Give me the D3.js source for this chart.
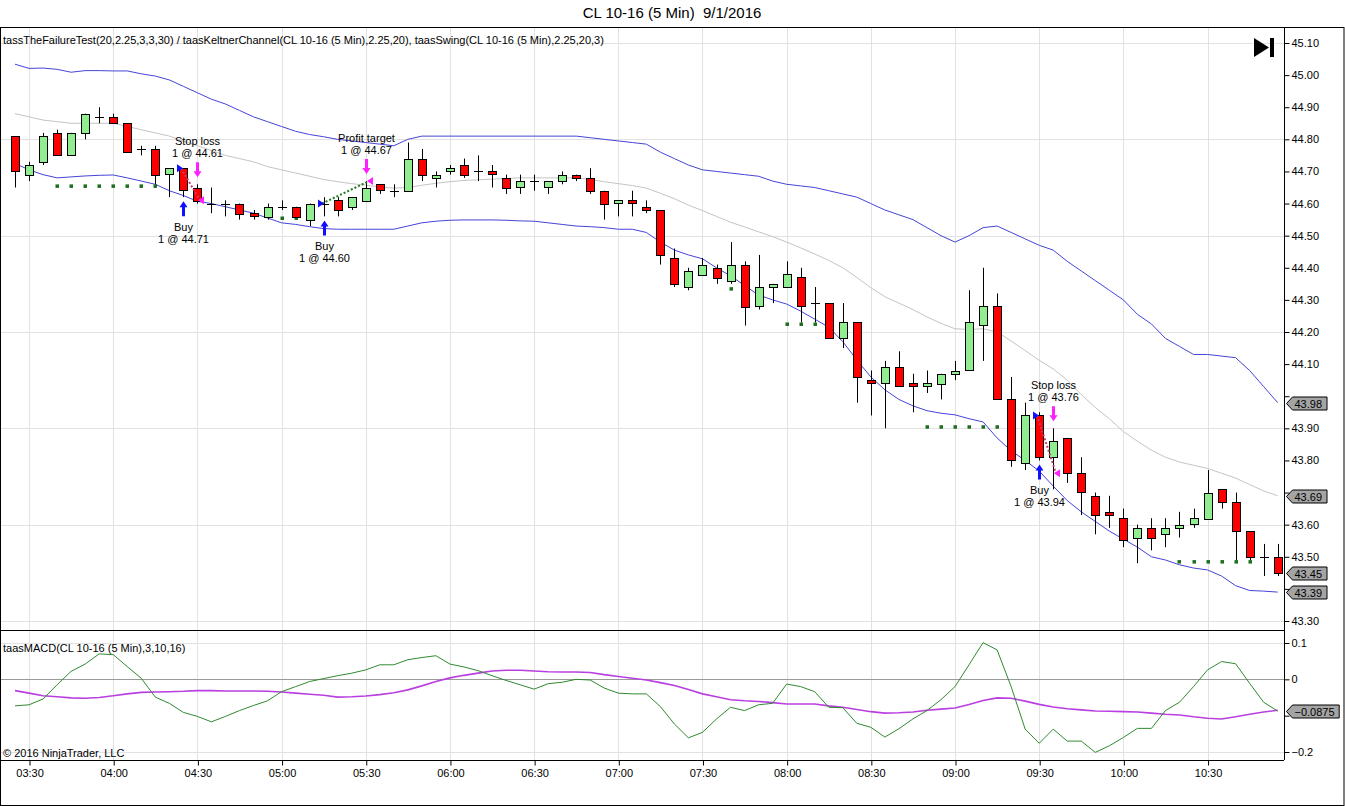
<!DOCTYPE html>
<html lang="en">
<head>
<meta charset="UTF-8">
<title>CL 10-16 (5 Min) 9/1/2016</title>
<script src="https://cdnjs.cloudflare.com/ajax/libs/d3/7.8.5/d3.min.js"></script>
<style>
    body { margin: 0; background: #fff; }
    svg { display: block; font-family: "Liberation Sans", Arial, sans-serif; }
    .lbl { font-size: 11px; fill: #000; }
</style>
</head>
<body>
<div id="chart"></div>
<script>
// ---- data ----
const opens = [44.81,44.69,44.73,44.82,44.75,44.82,44.87,44.87,44.85,44.77,
    44.77,44.69,44.71,44.65,44.60,44.60,44.60,44.57,44.56,44.59,
    44.59,44.55,44.60,44.61,44.59,44.61,44.66,44.64,44.64,44.74,
    44.68,44.70,44.72,44.70,44.70,44.68,44.65,44.67,44.65,44.67,
    44.69,44.68,44.64,44.60,44.61,44.59,44.58,44.43,44.34,44.38,
    44.40,44.36,44.41,44.28,44.34,44.34,44.37,44.29,44.29,44.18,
    44.23,44.05,44.04,44.09,44.04,44.03,44.04,44.07,44.08,44.22,
    44.28,43.99,43.79,43.94,43.81,43.87,43.76,43.69,43.64,43.62,
    43.56,43.59,43.57,43.59,43.60,43.62,43.71,43.67,43.58,43.50,
    43.50];
const highs = [44.81,44.73,44.82,44.83,44.82,44.88,44.90,44.88,44.85,44.78,
    44.78,44.71,44.71,44.66,44.65,44.61,44.60,44.58,44.60,44.61,
    44.59,44.60,44.62,44.62,44.62,44.67,44.66,44.66,44.79,44.77,
    44.70,44.72,44.74,44.75,44.72,44.69,44.69,44.69,44.67,44.70,
    44.69,44.71,44.64,44.61,44.64,44.61,44.58,44.46,44.40,44.43,
    44.41,44.48,44.42,44.44,44.35,44.42,44.40,44.34,44.29,44.29,
    44.23,44.08,44.11,44.14,44.07,44.08,44.07,44.11,44.33,44.40,
    44.32,44.06,43.98,43.95,43.90,43.87,43.81,43.70,43.69,43.65,
    43.60,43.62,43.62,43.64,43.65,43.77,43.71,43.70,43.58,43.54,
    43.54];
const lows = [44.65,44.67,44.72,44.75,44.75,44.80,44.85,44.85,44.76,44.75,
    44.66,44.62,44.62,44.60,44.57,44.56,44.55,44.55,44.55,44.58,
    44.56,44.53,44.56,44.56,44.58,44.61,44.63,44.62,44.64,44.67,
    44.65,44.69,44.68,44.67,44.65,44.63,44.63,44.64,44.63,44.66,
    44.67,44.63,44.55,44.56,44.56,44.57,44.41,44.34,44.33,44.38,
    44.35,44.35,44.22,44.27,44.29,44.34,44.23,44.23,44.18,44.15,
    43.98,43.94,43.90,44.03,43.95,44.01,43.99,44.05,44.08,44.11,
    43.99,43.78,43.77,43.80,43.71,43.73,43.63,43.57,43.59,43.53,
    43.48,43.52,43.53,43.56,43.59,43.62,43.65,43.49,43.49,43.44,
    43.44];
const closes = [44.70,44.72,44.81,44.75,44.82,44.88,44.87,44.85,44.76,44.77,
    44.69,44.71,44.64,44.61,44.60,44.60,44.57,44.56,44.59,44.59,
    44.56,44.60,44.60,44.58,44.62,44.65,44.64,44.64,44.74,44.69,
    44.69,44.71,44.69,44.70,44.69,44.65,44.67,44.67,44.67,44.69,
    44.68,44.64,44.60,44.61,44.60,44.58,44.44,44.35,44.39,44.41,
    44.37,44.41,44.28,44.34,44.35,44.38,44.28,44.29,44.18,44.23,
    44.06,44.04,44.09,44.03,44.03,44.04,44.07,44.08,44.23,44.28,
    43.99,43.80,43.94,43.81,43.86,43.76,43.70,43.63,43.63,43.55,
    43.59,43.56,43.59,43.60,43.62,43.70,43.67,43.58,43.50,43.50,
    43.45];

const kcUpper = [45.034,45.021,45.022,45.018,45.009,45.014,45.014,45.013,45.013,45.004,
    44.997,44.985,44.965,44.945,44.925,44.91,44.89,44.87,44.855,44.84,
    44.825,44.815,44.808,44.80,44.795,44.79,44.785,44.78,44.80,44.81,
    44.81,44.81,44.81,44.81,44.81,44.81,44.81,44.81,44.81,44.81,
    44.81,44.805,44.80,44.795,44.79,44.785,44.76,44.74,44.72,44.705,
    44.70,44.695,44.69,44.685,44.67,44.66,44.655,44.65,44.64,44.63,
    44.62,44.60,44.58,44.565,44.55,44.525,44.50,44.48,44.50,44.525,
    44.53,44.51,44.49,44.47,44.455,44.42,44.39,44.36,44.33,44.30,
    44.255,44.225,44.18,44.155,44.13,44.13,44.125,44.12,44.08,44.03,
    43.98];
const kcMid = [44.88,44.87,44.86,44.855,44.85,44.85,44.85,44.85,44.84,44.83,
    44.82,44.81,44.795,44.78,44.765,44.75,44.74,44.73,44.715,44.705,
    44.695,44.685,44.675,44.668,44.662,44.657,44.652,44.648,44.65,44.657,
    44.663,44.668,44.672,44.674,44.676,44.678,44.68,44.68,44.68,44.68,
    44.68,44.675,44.668,44.662,44.656,44.648,44.632,44.615,44.595,44.578,
    44.56,44.542,44.527,44.512,44.497,44.48,44.462,44.443,44.423,44.40,
    44.37,44.338,44.31,44.29,44.27,44.247,44.227,44.21,44.208,44.21,
    44.20,44.172,44.142,44.112,44.085,44.05,44.005,43.965,43.93,43.89,
    43.86,43.832,43.81,43.795,43.785,43.775,43.76,43.745,43.725,43.705,
    43.69];
const kcLower = [44.725,44.705,44.69,44.68,44.683,44.686,44.688,44.689,44.68,44.67,
    44.66,44.64,44.625,44.607,44.60,44.59,44.58,44.57,44.555,44.54,
    44.535,44.528,44.522,44.52,44.52,44.52,44.52,44.52,44.53,44.54,
    44.545,44.548,44.549,44.549,44.549,44.548,44.546,44.545,44.54,44.535,
    44.53,44.528,44.525,44.52,44.52,44.51,44.48,44.455,44.44,44.428,
    44.40,44.375,44.345,44.315,44.30,44.287,44.265,44.24,44.215,44.17,
    44.113,44.06,44.02,43.99,43.97,43.955,43.947,43.942,43.93,43.92,
    43.87,43.83,43.80,43.767,43.72,43.675,43.64,43.61,43.58,43.555,
    43.53,43.50,43.49,43.475,43.465,43.459,43.44,43.41,43.395,43.393,
    43.39];

const macdLine = [-0.073,-0.070,-0.054,-0.015,0.022,0.042,0.070,0.068,0.035,0.003,
    -0.049,-0.066,-0.091,-0.102,-0.117,-0.102,-0.086,-0.072,-0.059,-0.034,
    -0.020,-0.006,0.002,0.010,0.017,0.026,0.040,0.040,0.054,0.060,
    0.065,0.042,0.034,0.024,0.010,-0.003,-0.015,-0.027,-0.012,-0.008,
    0.000,-0.002,-0.024,-0.038,-0.040,-0.040,-0.075,-0.123,-0.161,-0.146,
    -0.109,-0.077,-0.086,-0.070,-0.066,-0.013,-0.020,-0.034,-0.077,-0.078,
    -0.121,-0.132,-0.159,-0.136,-0.109,-0.086,-0.056,-0.020,0.040,0.101,
    0.081,-0.020,-0.137,-0.176,-0.137,-0.170,-0.170,-0.201,-0.183,-0.160,
    -0.135,-0.135,-0.086,-0.063,-0.020,0.026,0.049,0.043,-0.011,-0.063,
    -0.0875];
const macdSignal = [-0.031,-0.038,-0.045,-0.048,-0.051,-0.052,-0.050,-0.045,-0.040,-0.036,
    -0.035,-0.034,-0.033,-0.031,-0.031,-0.032,-0.032,-0.032,-0.033,-0.035,
    -0.038,-0.041,-0.044,-0.049,-0.048,-0.046,-0.042,-0.037,-0.029,-0.018,
    -0.006,0.004,0.011,0.017,0.023,0.025,0.025,0.023,0.021,0.020,
    0.020,0.019,0.013,0.008,0.003,-0.002,-0.009,-0.017,-0.028,-0.040,
    -0.048,-0.056,-0.059,-0.061,-0.064,-0.068,-0.068,-0.068,-0.073,-0.077,
    -0.083,-0.089,-0.093,-0.092,-0.090,-0.085,-0.082,-0.079,-0.069,-0.058,
    -0.051,-0.052,-0.060,-0.069,-0.076,-0.081,-0.084,-0.087,-0.088,-0.089,
    -0.090,-0.093,-0.096,-0.098,-0.103,-0.107,-0.109,-0.103,-0.096,-0.090,
    -0.085];

// swing levels: first bar, last bar, price
const swingStart = [3, 19, 51, 55, 65, 83];
const swingEnd   = [10, 20, 51, 57, 70, 88];
const swingPrice = [44.655, 44.555, 44.335, 44.225, 43.905, 43.485];

// trades
const entryBar   = [12, 22, 73];
const entryPrice = [44.71, 44.60, 43.94];
const exitBar    = [13, 25, 74];
const exitPrice  = [44.61, 44.67, 43.76];
const exitName   = ['Stop loss', 'Profit target', 'Stop loss'];

const priceTicks = [43.30,43.40,43.50,43.60,43.70,43.80,43.90,44.00,44.10,44.20,
    44.30,44.40,44.50,44.60,44.70,44.80,44.90,45.00,45.10];
const priceGrid = [43.30, 43.60, 43.90, 44.20, 44.50, 44.80, 45.10];
const macdTicks = [0.1, 0, -0.1, -0.2];
const macdGrid = [0.1, -0.2];

// ---- layout ----
const width = 1345, height = 806;
const axisX = 1284;
const panelTop = 27, split = 630, macdBottom = 760, frameBottom = 805;

const svg = d3.select('#chart').append('svg')
    .attr('width', width)
    .attr('height', height);

const barTimes = d3.timeMinute.every(5).range(new Date(2016, 8, 1, 3, 25), new Date(2016, 8, 1, 11, 0));
const bars = barTimes.map((t, i) => ({
    i, t, o: opens[i], h: highs[i], l: lows[i], c: closes[i]
}));

const x = d3.scaleTime()
    .domain([barTimes[0], barTimes[barTimes.length - 1]])
    .range([15, 1277.7]);
const y = d3.scaleLinear().domain([43.30, 45.10]).range([621, 43]);
const ym = d3.scaleLinear().domain([-0.2, 0.1]).range([752, 643]);
const px = i => Math.round(x(barTimes[i]));

const defs = svg.append('defs');
defs.append('clipPath').attr('id', 'clipPrice')
    .append('rect').attr('x', 0).attr('y', panelTop).attr('width', axisX).attr('height', split - panelTop);
defs.append('clipPath').attr('id', 'clipMacd')
    .append('rect').attr('x', 0).attr('y', split).attr('width', axisX).attr('height', macdBottom - split);

// grid
const timeTicks = x.ticks(d3.timeMinute.every(30));
svg.append('g').selectAll('line').data(timeTicks).enter().append('line')
    .attr('x1', d => Math.round(x(d)) + 0.5).attr('x2', d => Math.round(x(d)) + 0.5)
    .attr('y1', panelTop).attr('y2', macdBottom)
    .attr('stroke', '#e2e2e2');
svg.append('g').selectAll('line').data(priceGrid).enter().append('line')
    .attr('x1', 0).attr('x2', axisX)
    .attr('y1', d => Math.round(y(d)) + 0.5).attr('y2', d => Math.round(y(d)) + 0.5)
    .attr('stroke', '#e2e2e2');
svg.append('g').selectAll('line').data(macdGrid).enter().append('line')
    .attr('x1', 0).attr('x2', axisX)
    .attr('y1', d => Math.round(ym(d)) + 0.5).attr('y2', d => Math.round(ym(d)) + 0.5)
    .attr('stroke', '#e2e2e2');

// ---- price panel ----
const price = svg.append('g').attr('clip-path', 'url(#clipPrice)');

const bandLine = arr => d3.line()
    .x((d, i) => x(barTimes[i]))
    .y(d => y(d))(arr);

price.append('path').attr('d', bandLine(kcMid))
    .attr('fill', 'none').attr('stroke', '#c4c4c4').attr('stroke-width', 1);
price.append('path').attr('d', bandLine(kcUpper))
    .attr('fill', 'none').attr('stroke', '#4444d8').attr('stroke-width', 1);
price.append('path').attr('d', bandLine(kcLower))
    .attr('fill', 'none').attr('stroke', '#4444d8').attr('stroke-width', 1);

// swing dots
const swingDots = [];
swingStart.forEach((s, k) => {
    for (let i = s; i <= swingEnd[k]; i++) swingDots.push({ i, p: swingPrice[k] });
});
price.append('g').selectAll('rect').data(swingDots).enter().append('rect')
    .attr('x', d => px(d.i) - 1.5)
    .attr('y', d => y(d.p) - 1.5)
    .attr('width', 3.5).attr('height', 3.5)
    .attr('fill', '#1d6e1d');

// candles
const candle = price.append('g').selectAll('g').data(bars).enter().append('g');
candle.append('line')
    .attr('x1', d => px(d.i) + 0.5).attr('x2', d => px(d.i) + 0.5)
    .attr('y1', d => y(d.h)).attr('y2', d => y(d.l))
    .attr('stroke', '#000');
candle.filter(d => d.o !== d.c).append('rect')
    .attr('x', d => px(d.i) - 3.5)
    .attr('y', d => Math.round(y(Math.max(d.o, d.c))) + 0.5)
    .attr('width', 8)
    .attr('height', d => Math.max(1, Math.round(Math.abs(y(d.o) - y(d.c)))))
    .attr('fill', d => d.c > d.o ? '#90ee90' : '#ff0000')
    .attr('stroke', '#000');
candle.filter(d => d.o === d.c).append('line')
    .attr('x1', d => px(d.i) - 4)
    .attr('x2', d => px(d.i) + 5)
    .attr('y1', d => Math.round(y(d.o)) + 0.5)
    .attr('y2', d => Math.round(y(d.o)) + 0.5)
    .attr('stroke', '#000');

// trades
const trades = entryBar.map((b, k) => ({
    eb: b, ep: entryPrice[k], xb: exitBar[k], xp: exitPrice[k], name: exitName[k],
    win: exitPrice[k] > entryPrice[k]
}));
const tg = price.append('g');
tg.selectAll('line.trade').data(trades).enter().append('line')
    .attr('x1', d => px(d.eb) - 2).attr('y1', d => y(d.ep))
    .attr('x2', d => px(d.xb) + 3).attr('y2', d => y(d.xp))
    .attr('stroke', d => d.win ? '#1f7a1f' : '#cc3a6a')
    .attr('stroke-width', 2)
    .attr('stroke-dasharray', '2,2');
tg.selectAll('path.entryTri').data(trades).enter().append('path')
    .attr('d', d => {
        const cx = px(d.eb), cy = y(d.ep);
        return `M${cx - 6},${cy - 4}L${cx},${cy}L${cx - 6},${cy + 4}Z`;
    })
    .attr('fill', '#1010ff');
tg.selectAll('path.exitTri').data(trades).enter().append('path')
    .attr('d', d => {
        const cx = px(d.xb), cy = y(d.xp);
        return `M${cx + 7},${cy - 4}L${cx + 1},${cy}L${cx + 7},${cy + 4}Z`;
    })
    .attr('fill', '#ff20ff');

const upArrow = (cx, ty) => `M${cx},${ty}L${cx + 4},${ty + 6}L${cx + 1.5},${ty + 6}L${cx + 1.5},${ty + 15}` +
    `L${cx - 1.5},${ty + 15}L${cx - 1.5},${ty + 6}L${cx - 4},${ty + 6}Z`;
const downArrow = (cx, ty) => `M${cx},${ty}L${cx + 4},${ty - 6}L${cx + 1.5},${ty - 6}L${cx + 1.5},${ty - 15}` +
    `L${cx - 1.5},${ty - 15}L${cx - 1.5},${ty - 6}L${cx - 4},${ty - 6}Z`;

trades.forEach(d => {
    const ex = px(d.eb) + 0.5, ey = y(lows[d.eb]) + 4;
    tg.append('path').attr('d', upArrow(ex, ey)).attr('fill', '#1010ff');
    tg.append('text').attr('class', 'lbl').attr('x', ex).attr('y', ey + 30)
        .attr('text-anchor', 'middle').text('Buy');
    tg.append('text').attr('class', 'lbl').attr('x', ex).attr('y', ey + 42)
        .attr('text-anchor', 'middle').text('1 @ ' + d.ep.toFixed(2));

    const xx = px(d.xb) + 0.5, xy = y(highs[d.xb]) - 7;
    tg.append('path').attr('d', downArrow(xx, xy)).attr('fill', '#ff20ff');
    tg.append('text').attr('class', 'lbl').attr('x', xx).attr('y', xy - 32)
        .attr('text-anchor', 'middle').text(d.name);
    tg.append('text').attr('class', 'lbl').attr('x', xx).attr('y', xy - 20)
        .attr('text-anchor', 'middle').text('1 @ ' + d.xp.toFixed(2));
});

// ---- MACD panel ----
const macd = svg.append('g').attr('clip-path', 'url(#clipMacd)');
macd.append('line')
    .attr('x1', 0).attr('x2', axisX)
    .attr('y1', Math.round(ym(0)) + 0.5).attr('y2', Math.round(ym(0)) + 0.5)
    .attr('stroke', '#9a9a9a');
const macdPath = d3.line().x((d, i) => x(barTimes[i])).y(d => ym(d));
macd.append('path').attr('d', macdPath(macdSignal))
    .attr('fill', 'none').attr('stroke', '#b93fe0').attr('stroke-width', 1.6);
macd.append('path').attr('d', macdPath(macdLine))
    .attr('fill', 'none').attr('stroke', '#2f8a2f').attr('stroke-width', 1);

// value markers on the right axis (they hide the tick labels below them)
const markers = [
    { v: kcUpper[kcUpper.length - 1], s: y, f: '.2f' },
    { v: kcMid[kcMid.length - 1], s: y, f: '.2f' },
    { v: closes[closes.length - 1], s: y, f: '.2f' },
    { v: kcLower[kcLower.length - 1], s: y, f: '.2f' },
    { v: macdLine[macdLine.length - 1], s: ym, f: '.4f' }
];
const covered = (scale, v) => markers.some(m => m.s === scale && Math.abs(scale(m.v) - scale(v)) < 9);

// ---- axes ----
const yAxis = svg.append('g')
    .attr('transform', `translate(${axisX + 0.5},0)`)
    .call(d3.axisRight(y).tickValues(priceTicks).tickFormat(d3.format('.2f')).tickSize(5).tickPadding(2));
const mAxis = svg.append('g')
    .attr('transform', `translate(${axisX + 0.5},0)`)
    .call(d3.axisRight(ym).tickValues(macdTicks).tickFormat(d => d === 0 ? '0' : d3.format('.1f')(d)).tickSize(5).tickPadding(2));
const xAxis = svg.append('g')
    .attr('transform', `translate(0.5,${macdBottom + 0.5})`)
    .call(d3.axisBottom(x).ticks(d3.timeMinute.every(30)).tickFormat(d3.timeFormat('%H:%M')).tickSize(5).tickPadding(4));
[yAxis, mAxis, xAxis].forEach(g => {
    g.select('.domain').remove();
    g.selectAll('line').attr('stroke', '#000');
    g.selectAll('text').attr('font-family', '"Liberation Sans", Arial, sans-serif')
        .attr('font-size', 11).attr('fill', '#000');
});
yAxis.selectAll('.tick text').filter(d => covered(y, d)).remove();
mAxis.selectAll('.tick text').filter(d => covered(ym, d)).remove();

// panel frames
svg.append('line').attr('x1', axisX + 0.5).attr('x2', axisX + 0.5)
    .attr('y1', panelTop).attr('y2', macdBottom).attr('stroke', '#000');
svg.append('line').attr('x1', 0).attr('x2', axisX)
    .attr('y1', split + 0.5).attr('y2', split + 0.5).attr('stroke', '#000');
svg.append('line').attr('x1', 0).attr('x2', axisX)
    .attr('y1', macdBottom + 0.5).attr('y2', macdBottom + 0.5).attr('stroke', '#000');
svg.append('rect').attr('x', 0.5).attr('y', panelTop + 0.5)
    .attr('width', width - 1.5).attr('height', frameBottom - panelTop)
    .attr('fill', 'none').attr('stroke', '#000');

markers.forEach(m => {
    const cy = Math.round(m.s(m.v)) + 0.5;
    const label = d3.format(m.f)(m.v);
    const w = label.length * 6.1 + 4;
    const x0 = axisX + 2.5;
    svg.append('path')
        .attr('d', `M${x0},${cy}L${x0 + 6},${cy - 6.5}L${x0 + 6 + w},${cy - 6.5}L${x0 + 6 + w},${cy + 6.5}L${x0 + 6},${cy + 6.5}Z`)
        .attr('fill', '#a4a4a4').attr('stroke', '#000');
    svg.append('text').attr('class', 'lbl').attr('x', x0 + 8).attr('y', cy + 4).text(label);
});

// ---- texts ----
svg.append('text').attr('x', 672).attr('y', 18).attr('text-anchor', 'middle')
    .attr('font-size', 15).style('white-space', 'pre').text('CL 10-16 (5 Min)  9/1/2016');
svg.append('text').attr('class', 'lbl').attr('x', 3).attr('y', 44)
    .text('tassTheFailureTest(20,2.25,3,3,30) / taasKeltnerChannel(CL 10-16 (5 Min),2.25,20), taasSwing(CL 10-16 (5 Min),2.25,20,3)');
svg.append('text').attr('class', 'lbl').attr('x', 3).attr('y', 652)
    .text('taasMACD(CL 10-16 (5 Min),3,10,16)');
svg.append('text').attr('class', 'lbl').attr('x', 3).attr('y', 757)
    .text('© 2016 NinjaTrader, LLC');

// "go to end" icon
svg.append('path').attr('d', 'M1254,38L1269,47.5L1254,57Z').attr('fill', '#000');
svg.append('rect').attr('x', 1270).attr('y', 38).attr('width', 4).attr('height', 19).attr('fill', '#000');
</script>
</body>
</html>
